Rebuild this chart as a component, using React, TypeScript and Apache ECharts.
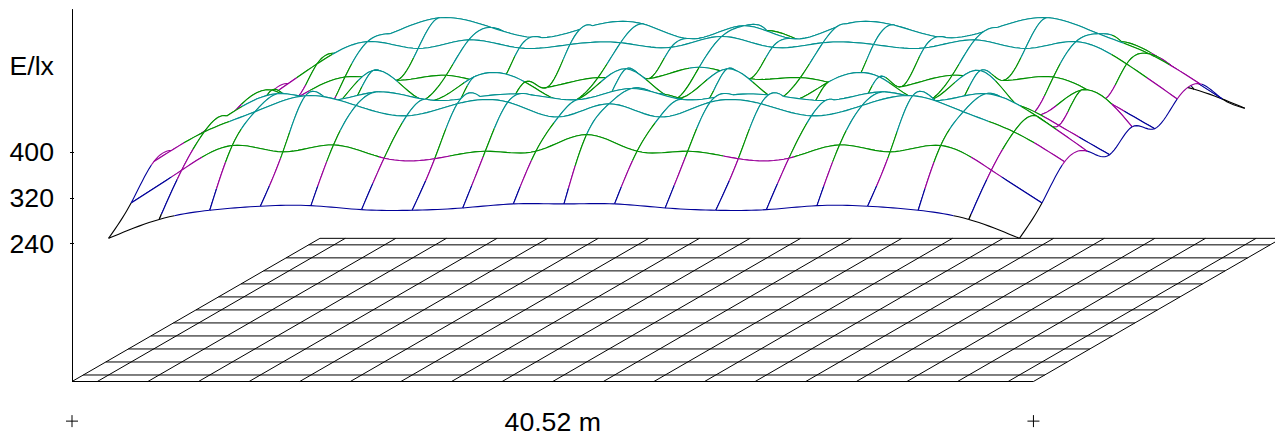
import React, { useEffect, useRef } from "react";
import * as echarts from "echarts";

// Illuminance in lx at the calculation points, row 0 is the front row, index 0 the left point.
const row0 = [238, 271, 287, 294, 295, 288, 287, 291, 298, 298, 298, 291, 287, 288, 295, 294, 287, 271, 238];
const row1 = [277, 334, 377, 366, 378, 355, 354, 367, 367, 396, 367, 367, 354, 355, 378, 366, 377, 334, 277];
const row2 = [326, 378, 413, 441, 424, 406, 427, 430, 404, 427, 404, 430, 427, 406, 424, 441, 413, 378, 326];
const row3 = [322, 383, 422, 410, 425, 411, 417, 420, 412, 431, 412, 420, 417, 411, 425, 410, 422, 383, 322];
const row4 = [293, 344, 383, 377, 386, 366, 365, 382, 380, 400, 380, 382, 365, 366, 386, 377, 383, 344, 293];
const row5 = [319, 383, 339, 417, 365, 406, 397, 365, 420, 368, 420, 365, 397, 406, 365, 417, 339, 383, 319];
const row6 = [293, 344, 383, 377, 386, 366, 365, 382, 380, 400, 380, 382, 365, 366, 386, 377, 383, 344, 293];
const row7 = [322, 383, 422, 410, 425, 411, 417, 420, 412, 431, 412, 420, 417, 411, 425, 410, 422, 383, 322];
const row8 = [326, 378, 413, 441, 424, 406, 427, 430, 404, 427, 404, 430, 427, 406, 424, 441, 413, 378, 326];
const row9 = [277, 334, 377, 366, 378, 355, 354, 367, 367, 396, 367, 367, 354, 355, 378, 366, 377, 334, 277];
const row10 = [238, 271, 287, 294, 295, 288, 287, 291, 298, 298, 298, 291, 287, 288, 295, 294, 287, 271, 238];
const rows = [row0, row1, row2, row3, row4, row5, row6, row7, row8, row9, row10];

const yTicks = [240, 320, 400];
const yTitle = "E/lx";
const xTitle = "40.52 m";
const widthM = 40.52;

// Upper limits in lx of the colour bands along the mesh lines.
const bandLimits = [277, 322, 358, 398];
const bandColors = ["#000000", "#000099", "#990099", "#009000", "#009090"];

// Oblique projection: one row of depth moves a point this far in axis units.
const DEPTH_M = 0.95;
const DEPTH_LX = 22.67;
const CELL_M = widthM / 19;
const STEPS = 10;
const MESH_WIDTH = 1.1;

const colorOf = (e: number) => {
  for (let b = 0; b < bandLimits.length; b++) if (e < bandLimits[b]) return bandColors[b];
  return bandColors[bandColors.length - 1];
};

// Natural cubic spline through equally spaced values.
function spline(v: number[]) {
  const n = v.length;
  const m = new Array(n).fill(0);
  const c = new Array(n).fill(0);
  const d = new Array(n).fill(0);
  for (let i = 1; i < n - 1; i++) {
    const r = 6 * (v[i + 1] - 2 * v[i] + v[i - 1]);
    const den = 4 - c[i - 1];
    c[i] = 1 / den;
    d[i] = (r - d[i - 1]) / den;
  }
  for (let i = n - 2; i > 0; i--) m[i] = d[i] - c[i] * m[i + 1];
  return (t: number) => {
    const i = Math.min(Math.floor(t), n - 2);
    const a = t - i;
    const b = 1 - a;
    return b * v[i] + a * v[i + 1] + (((b * b * b - b) * m[i] + (a * a * a - a) * m[i + 1]) / 6);
  };
}

const rowCurves = rows.map(spline);
const colCurves = row0.map((_, i) => spline(rows.map((r) => r[i])));

const cells: number[][] = [];
for (let k = rows.length - 2; k >= 0; k--) for (let i = 0; i < row0.length - 1; i++) cells.push([k, i]);

const floorRows = [0, 0.5, 1.5, 2.5, 3.5, 4.5, 5.5, 6.5, 7.5, 8.5, 9.5, 10.5, 11];
const floorCols = [0, 0.5, 1.5, 2.5, 3.5, 4.5, 5.5, 6.5, 7.5, 8.5, 9.5, 10.5, 11.5, 12.5, 13.5, 14.5, 15.5, 16.5, 17.5, 18.5, 19];
const floorLines = [
  ...floorRows.map((r) => [0, r]),
  ...floorCols.map((c) => [1, c]),
];
const crosses = [
  [0, -69],
  [widthM, -69],
];

export default function App() {
  const ref = useRef<HTMLDivElement>(null);
  useEffect(() => {
    const chart = echarts.init(ref.current!, null, { renderer: "svg" });
    const project = (api: any, colUnits: number, depth: number, e: number) =>
      api.coord([colUnits * CELL_M + depth * DEPTH_M, e + depth * DEPTH_LX]);

    const renderSurface = (_: any, api: any) => {
      const k = api.value(0);
      const i = api.value(1);
      const rowEdge = (kk: number) => {
        const scr: number[][] = [];
        const es: number[] = [];
        for (let s = 0; s <= STEPS; s++) {
          const t = i + s / STEPS;
          const e = rowCurves[kk](t);
          scr.push(project(api, t + 0.5, kk + 0.5, e));
          es.push(e);
        }
        return { scr, es };
      };
      const colEdge = (ii: number) => {
        const scr: number[][] = [];
        const es: number[] = [];
        for (let s = 0; s <= STEPS; s++) {
          const t = k + s / STEPS;
          const e = colCurves[ii](t);
          scr.push(project(api, ii + 0.5, t + 0.5, e));
          es.push(e);
        }
        return { scr, es };
      };
      const front = rowEdge(k);
      const back = rowEdge(k + 1);
      const left = colEdge(i);
      const right = colEdge(i + 1);
      const outline = [
        ...front.scr,
        ...right.scr.slice(1),
        ...back.scr.slice().reverse().slice(1),
        ...left.scr.slice().reverse().slice(1),
      ];
      const draw = (edge: { scr: number[][]; es: number[] }) => {
        const lines: any[] = [];
        let run: number[][] = [edge.scr[0]];
        let runColor = colorOf((edge.es[0] + edge.es[1]) / 2);
        for (let s = 0; s < STEPS; s++) {
          const col = colorOf((edge.es[s] + edge.es[s + 1]) / 2);
          if (col !== runColor) {
            lines.push({ type: "polyline", shape: { points: run }, style: { stroke: runColor, fill: null, lineWidth: MESH_WIDTH } });
            run = [edge.scr[s]];
            runColor = col;
          }
          run.push(edge.scr[s + 1]);
        }
        lines.push({ type: "polyline", shape: { points: run }, style: { stroke: runColor, fill: null, lineWidth: MESH_WIDTH } });
        return lines;
      };
      return {
        type: "group",
        children: [
          { type: "polygon", shape: { points: outline }, style: { fill: "#ffffff", stroke: null } },
          ...draw(back),
          ...draw(left),
          ...draw(right),
          ...draw(front),
        ],
      };
    };

    const renderFloor = (_: any, api: any) => {
      const kind = api.value(0);
      const v = api.value(1);
      const a = kind === 0 ? project(api, 0, v, 0) : project(api, v, 0, 0);
      const b = kind === 0 ? project(api, 19, v, 0) : project(api, v, 11, 0);
      return {
        type: "line",
        shape: { x1: a[0], y1: a[1], x2: b[0], y2: b[1] },
        style: { stroke: "#000000", lineWidth: 1 },
      };
    };

    const renderCross = (_: any, api: any) => {
      const p = api.coord([api.value(0), api.value(1)]);
      const style = { stroke: "#000000", lineWidth: 1 };
      return {
        type: "group",
        children: [
          { type: "line", shape: { x1: p[0] - 6, y1: p[1], x2: p[0] + 6, y2: p[1] }, style },
          { type: "line", shape: { x1: p[0], y1: p[1] - 6, x2: p[0], y2: p[1] + 6 }, style },
        ],
      };
    };

    const font = { fontFamily: "Liberation Sans", fontSize: 26.67, color: "#000000" };
    chart.setOption({
      animation: false,
      backgroundColor: "#ffffff",
      grid: { left: 72, right: 0, top: 9.5, bottom: 55.5 },
      xAxis: {
        type: "value",
        min: 0,
        max: 50.7,
        axisLine: { show: false },
        axisTick: { show: false },
        splitLine: { show: false },
        axisLabel: { ...font, margin: 26.5, customValues: [widthM / 2], formatter: () => xTitle },
      },
      yAxis: [
        {
          type: "value",
          min: 0,
          max: 648,
          position: "left",
          axisLine: { show: true, lineStyle: { color: "#000000", width: 1 } },
          axisTick: { show: true, length: 2, lineStyle: { color: "#000000" }, customValues: yTicks },
          splitLine: { show: false },
          axisLabel: {
            ...font,
            align: "left",
            margin: 62.5,
            customValues: [...yTicks, 550],
            formatter: (v: number) => (v === 550 ? yTitle : String(v)),
          },
        },
        {
          type: "value",
          min: 0,
          max: 648,
          position: "left",
          axisLine: { show: false },
          axisTick: { show: true, inside: true, length: 2, lineStyle: { color: "#000000" }, customValues: yTicks },
          splitLine: { show: false },
          axisLabel: { show: false },
        },
      ],
      series: [
        { type: "custom", coordinateSystem: "cartesian2d", silent: true, clip: false, data: floorLines, renderItem: renderFloor },
        { type: "custom", coordinateSystem: "cartesian2d", silent: true, clip: false, data: cells, renderItem: renderSurface },
        { type: "custom", coordinateSystem: "cartesian2d", silent: true, clip: false, data: crosses, renderItem: renderCross },
      ],
    });
    return () => chart.dispose();
  }, []);
  return <div ref={ref} style={{ position: "fixed", left: 0, top: 0, width: 1275, height: 437 }} />;
}
